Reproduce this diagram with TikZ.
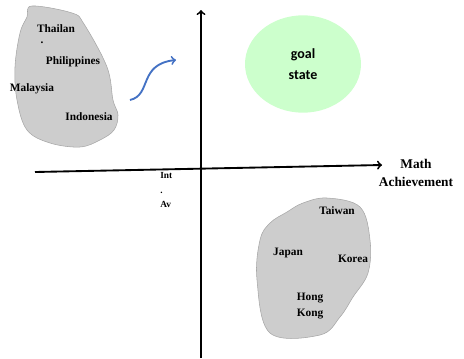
\documentclass[tikz,border=0pt]{standalone}
\usepackage{fontspec}
\setmainfont{Liberation Serif}
\newfontfamily\goalfont{Carlito}
\usetikzlibrary{positioning, arrows}
\definecolor{goalgreen}{RGB}{204,255,204}
\definecolor{curveblue}{RGB}{68,114,196}
\definecolor{blobgray}{RGB}{205,205,205}
\tikzstyle{axis} = [line width=1.4pt,->,>=to]
\tikzstyle{blob} = [fill=blobgray, draw=gray!70, line width=0.4pt]
\tikzstyle{country} = [font=\fontsize{8.5}{9}\selectfont\bfseries, inner sep=0pt]
\tikzstyle{axislabel} = [font=\fontsize{10}{14}\selectfont\bfseries, align=center, inner sep=0pt]
\tikzstyle{goal} = [ellipse, minimum width=87pt, minimum height=73pt, fill=goalgreen, font=\goalfont\fontsize{10.5}{16}\selectfont\bfseries, align=center, inner sep=0pt]
\tikzstyle{move} = [line width=1.4pt, color=curveblue, ->, >=to]
\usetikzlibrary{shapes.geometric}

\begin{document}
\begin{tikzpicture}[x=0.75pt, y=-0.75pt]
            \useasboundingbox (0,0) rectangle (464,358);

            % country groups
            \draw [blob] plot [smooth cycle, tension=0.6] coordinates {(32,6) (72,13) (84,24) (107,67) (113,100) (118,115) (114,130) (100,140) (80,147) (50,143) (27,130) (17,100) (15,67) (20,33) (27,17)};
            \draw [blob] plot [smooth cycle, tension=0.6] coordinates {(327,198) (360,207) (370,240) (368,273) (353,297) (340,317) (320,335) (270,333) (257,280) (260,240) (270,223) (287,212) (303,203)};

            % axes
            \coordinate (yfoot) at (201,358);
            \coordinate (ytip) at (201,10);
            \coordinate (xfoot) at (35,172);
            \coordinate (xtip) at (382,165);
            \draw [axis] (yfoot) -- (ytip);
            \draw [axis] (xfoot) -- (xtip);

            \node (math) [axislabel] at (416,173) {Math\\Achievement};
            \node (intav) [country, align=left, anchor=north west, font=\fontsize{7}{11}\selectfont\bfseries] at (160,172) {Int\\.\\Av};

            % goal
            \node (goal) [goal] at (303,64) {goal\\state};

            % countries
            \node (thai) [country] at (56,29) {Thailan};
            \node (dot) [country] at (42,43) {.};
            \node (phil) [country] at (73,62) {Philippines};
            \node (malay) [country] at (32,89) {Malaysia};
            \node (indo) [country] at (89,117) {Indonesia};
            \node (taiwan) [country] at (337,211) {Taiwan};
            \node (japan) [country] at (288,253) {Japan};
            \node (korea) [country] at (353,259) {Korea};
            \node (hk) [country, align=center, font=\fontsize{8.5}{11.5}\selectfont\bfseries] at (310,306) {Hong\\Kong};

            % improvement
            \coordinate (from) at (130,100);
            \coordinate (to) at (176,60);
            \draw [move] (from) .. controls (152,95) and (138,64) .. (to);

        \end{tikzpicture}
\end{document}
